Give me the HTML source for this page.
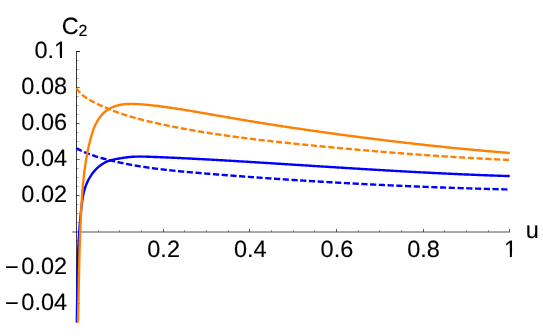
<!DOCTYPE html>
<html><head><meta charset="utf-8"><title>C2 plot</title>
<style>
html,body{margin:0;padding:0;background:#fff;}
body{width:543px;height:336px;overflow:hidden;}
svg{display:block;will-change:transform;}
text{font-family:"Liberation Sans",sans-serif;font-size:23.5px;fill:#000;stroke:#000;stroke-width:0.12px;text-rendering:geometricPrecision;}
</style></head><body>
<svg width="543" height="336" viewBox="0 0 543 336">
<defs><clipPath id="cy1"><path clip-rule="evenodd" d="M0,0H543V336H0Z M54.82,55.59H59.94V59.25H54.82Z M62.02,55.59H66.95V59.25H62.02Z"/></clipPath><clipPath id="cx1"><path clip-rule="evenodd" d="M0,0H543V336H0Z M504.71,253.84H509.82V257.50H504.71Z M511.90,253.84H516.84V257.50H511.90Z"/></clipPath></defs>
<rect width="543" height="336" fill="#fff"/>
<g stroke="#000" stroke-width="0.68" fill="none">
<line x1="72.1" y1="232" x2="510" y2="232"/>
<line x1="98.50" y1="232" x2="98.50" y2="229.90" stroke-width="0.36"/><line x1="119.50" y1="232" x2="119.50" y2="229.90" stroke-width="0.36"/><line x1="141.50" y1="232" x2="141.50" y2="229.90" stroke-width="0.36"/><line x1="163.50" y1="232" x2="163.50" y2="228.80" stroke-width="0.62"/><line x1="184.50" y1="232" x2="184.50" y2="229.90" stroke-width="0.36"/><line x1="206.50" y1="232" x2="206.50" y2="229.90" stroke-width="0.36"/><line x1="228.50" y1="232" x2="228.50" y2="229.90" stroke-width="0.36"/><line x1="249.50" y1="232" x2="249.50" y2="228.80" stroke-width="0.62"/><line x1="271.50" y1="232" x2="271.50" y2="229.90" stroke-width="0.36"/><line x1="293.50" y1="232" x2="293.50" y2="229.90" stroke-width="0.36"/><line x1="314.50" y1="232" x2="314.50" y2="229.90" stroke-width="0.36"/><line x1="336.50" y1="232" x2="336.50" y2="228.80" stroke-width="0.62"/><line x1="358.50" y1="232" x2="358.50" y2="229.90" stroke-width="0.36"/><line x1="379.50" y1="232" x2="379.50" y2="229.90" stroke-width="0.36"/><line x1="401.50" y1="232" x2="401.50" y2="229.90" stroke-width="0.36"/><line x1="423.50" y1="232" x2="423.50" y2="228.80" stroke-width="0.62"/><line x1="444.50" y1="232" x2="444.50" y2="229.90" stroke-width="0.36"/><line x1="466.50" y1="232" x2="466.50" y2="229.90" stroke-width="0.36"/><line x1="488.50" y1="232" x2="488.50" y2="229.90" stroke-width="0.36"/><line x1="509.50" y1="232" x2="509.50" y2="228.80" stroke-width="0.62"/>
</g>
<g stroke="#000" stroke-width="0.76" fill="none">
<line x1="76.5" y1="51.1" x2="76.5" y2="322.5"/>
<line x1="76.5" y1="321.50" x2="78.60" y2="321.50" stroke-width="0.36"/><line x1="76.5" y1="312.50" x2="78.60" y2="312.50" stroke-width="0.36"/><line x1="76.5" y1="303.50" x2="79.70" y2="303.50" stroke-width="0.62"/><line x1="76.5" y1="294.50" x2="78.60" y2="294.50" stroke-width="0.36"/><line x1="76.5" y1="285.50" x2="78.60" y2="285.50" stroke-width="0.36"/><line x1="76.5" y1="276.50" x2="78.60" y2="276.50" stroke-width="0.36"/><line x1="76.5" y1="267.50" x2="79.70" y2="267.50" stroke-width="0.62"/><line x1="76.5" y1="258.50" x2="78.60" y2="258.50" stroke-width="0.36"/><line x1="76.5" y1="249.50" x2="78.60" y2="249.50" stroke-width="0.36"/><line x1="76.5" y1="240.50" x2="78.60" y2="240.50" stroke-width="0.36"/><line x1="76.5" y1="222.50" x2="78.60" y2="222.50" stroke-width="0.36"/><line x1="76.5" y1="213.50" x2="78.60" y2="213.50" stroke-width="0.36"/><line x1="76.5" y1="204.50" x2="78.60" y2="204.50" stroke-width="0.36"/><line x1="76.5" y1="195.50" x2="79.70" y2="195.50" stroke-width="0.62"/><line x1="76.5" y1="186.50" x2="78.60" y2="186.50" stroke-width="0.36"/><line x1="76.5" y1="177.50" x2="78.60" y2="177.50" stroke-width="0.36"/><line x1="76.5" y1="168.50" x2="78.60" y2="168.50" stroke-width="0.36"/><line x1="76.5" y1="159.50" x2="79.70" y2="159.50" stroke-width="0.62"/><line x1="76.5" y1="150.50" x2="78.60" y2="150.50" stroke-width="0.36"/><line x1="76.5" y1="141.50" x2="78.60" y2="141.50" stroke-width="0.36"/><line x1="76.5" y1="132.50" x2="78.60" y2="132.50" stroke-width="0.36"/><line x1="76.5" y1="123.50" x2="79.70" y2="123.50" stroke-width="0.62"/><line x1="76.5" y1="114.50" x2="78.60" y2="114.50" stroke-width="0.36"/><line x1="76.5" y1="105.50" x2="78.60" y2="105.50" stroke-width="0.36"/><line x1="76.5" y1="96.50" x2="78.60" y2="96.50" stroke-width="0.36"/><line x1="76.5" y1="87.50" x2="79.70" y2="87.50" stroke-width="0.62"/><line x1="76.5" y1="78.50" x2="78.60" y2="78.50" stroke-width="0.36"/><line x1="76.5" y1="69.50" x2="78.60" y2="69.50" stroke-width="0.36"/><line x1="76.5" y1="60.50" x2="78.60" y2="60.50" stroke-width="0.36"/><line x1="76.5" y1="51.50" x2="79.70" y2="51.50" stroke-width="0.62"/>
<line x1="76.5" y1="51.5" x2="80.0" y2="51.5"/>
</g>
<g fill="none" stroke-width="2.4" stroke-linejoin="round">
<path d="M76.80,322.49 L76.83,321.35 L76.85,320.20 L76.87,319.05 L76.90,317.90 L76.92,316.75 L76.94,315.60 L76.96,314.45 L76.98,313.30 L76.99,312.15 L77.01,311.00 L77.03,309.85 L77.05,308.70 L77.06,307.55 L77.08,306.40 L77.09,305.25 L77.11,304.10 L77.13,302.95 L77.14,301.80 L77.16,300.65 L77.17,299.50 L77.18,298.34 L77.20,297.19 L77.21,296.04 L77.23,294.89 L77.24,293.74 L77.26,292.59 L77.27,291.44 L77.29,290.29 L77.30,289.14 L77.32,287.98 L77.33,286.83 L77.35,285.68 L77.37,284.53 L77.38,283.38 L77.40,282.23 L77.42,281.08 L77.44,279.93 L77.46,278.77 L77.48,277.62 L77.50,276.47 L77.52,275.32 L77.54,274.17 L77.56,273.02 L77.59,271.87 L77.61,270.72 L77.64,269.56 L77.66,268.41 L77.69,267.26 L77.72,266.11 L77.75,264.96 L77.78,263.81 L77.81,262.66 L77.84,261.51 L77.88,260.36 L77.91,259.21 L77.95,258.06 L77.99,256.91 L78.02,255.76 L78.07,254.61 L78.11,253.46 L78.15,252.31 L78.20,251.16 L78.24,250.01 L78.29,248.86 L78.34,247.71 L78.39,246.56 L78.45,245.41 L78.50,244.26 L78.56,243.11 L78.62,241.97 L78.68,240.82 L78.75,239.67 L78.81,238.52 L78.88,237.37 L78.95,236.23 L79.02,235.08 L79.09,233.93 L79.17,232.78 L79.25,231.64 L79.33,230.49 L79.41,229.34 L79.49,228.20 L79.58,227.05 L79.67,225.90 L79.76,224.76 L79.85,223.61 L79.95,222.47 L80.05,221.32 L80.15,220.18 L80.25,219.03 L80.36,217.88 L80.46,216.74 L80.57,215.59 L80.69,214.45 L80.80,213.31 L80.92,212.16 L81.04,211.02 L81.16,209.87 L81.28,208.73 L81.41,207.58 L81.54,206.44 L81.67,205.30 L81.81,204.15 L81.95,203.01 L82.10,201.87 L82.26,200.73 L82.42,199.59 L82.60,198.45 L82.79,197.32 L82.99,196.19 L83.21,195.06 L83.44,193.93 L83.70,192.81 L83.97,191.69 L84.26,190.58 L84.57,189.47 L84.91,188.37 L85.27,187.27 L85.65,186.17 L86.06,185.09 L86.50,184.01 L86.95,182.94 L87.43,181.88 L87.94,180.83 L88.46,179.80 L89.02,178.78 L89.59,177.77 L90.19,176.78 L90.81,175.80 L91.45,174.84 L92.11,173.90 L92.80,172.98 L93.51,172.08 L94.25,171.20 L95.00,170.34 L95.78,169.51 L96.58,168.70 L97.40,167.91 L98.24,167.16 L99.10,166.42 L99.99,165.72 L100.89,165.05 L101.82,164.40 L102.77,163.79 L103.74,163.21 L104.73,162.66 L105.74,162.15 L106.77,161.67 L107.82,161.23 L108.89,160.83 L109.98,160.46 L111.09,160.14 L112.22,159.84 L113.36,159.58 L114.51,159.34 L115.67,159.12 L116.83,158.92 L118.00,158.72 L119.16,158.54 L120.32,158.35 L121.48,158.17 L122.63,157.98 L123.77,157.80 L124.92,157.63 L126.06,157.46 L127.20,157.31 L128.34,157.17 L129.48,157.05 L130.62,156.94 L131.76,156.85 L132.90,156.77 L134.05,156.71 L135.19,156.66 L136.34,156.62 L137.48,156.60 L138.63,156.58 L139.77,156.57 L140.92,156.58 L142.07,156.59 L143.22,156.61 L144.36,156.63 L145.51,156.66 L146.66,156.69 L147.81,156.73 L148.96,156.77 L150.11,156.81 L151.26,156.85 L152.41,156.90 L153.56,156.94 L154.71,156.99 L155.85,157.03 L157.00,157.07 L158.15,157.12 L159.30,157.17 L160.45,157.21 L161.60,157.26 L162.75,157.31 L163.90,157.35 L165.05,157.40 L166.20,157.45 L167.35,157.50 L168.50,157.55 L169.64,157.60 L170.79,157.65 L171.94,157.70 L173.09,157.75 L174.24,157.81 L175.39,157.86 L176.54,157.91 L177.69,157.96 L178.84,158.02 L179.99,158.07 L181.14,158.13 L182.28,158.18 L183.43,158.24 L184.58,158.29 L185.73,158.35 L186.88,158.40 L188.03,158.46 L189.18,158.52 L190.33,158.57 L191.48,158.63 L192.63,158.69 L193.78,158.75 L194.92,158.81 L196.07,158.87 L197.22,158.93 L198.37,158.99 L199.52,159.05 L200.67,159.11 L201.82,159.17 L202.97,159.23 L204.12,159.29 L205.27,159.35 L206.42,159.41 L207.56,159.48 L208.71,159.54 L209.86,159.60 L211.01,159.66 L212.16,159.73 L213.31,159.79 L214.46,159.86 L215.61,159.92 L216.76,159.98 L217.91,160.05 L219.05,160.11 L220.20,160.18 L221.35,160.25 L222.50,160.31 L223.65,160.38 L224.80,160.44 L225.95,160.51 L227.10,160.58 L228.25,160.64 L229.39,160.71 L230.54,160.78 L231.69,160.85 L232.84,160.91 L233.99,160.98 L235.14,161.05 L236.29,161.12 L237.44,161.19 L238.59,161.26 L239.73,161.33 L240.88,161.40 L242.03,161.46 L243.18,161.53 L244.33,161.60 L245.48,161.67 L246.63,161.74 L247.78,161.81 L248.93,161.88 L250.07,161.95 L251.22,162.02 L252.37,162.10 L253.52,162.17 L254.67,162.24 L255.82,162.31 L256.97,162.38 L258.12,162.45 L259.26,162.52 L260.41,162.59 L261.56,162.67 L262.71,162.74 L263.86,162.81 L265.01,162.88 L266.16,162.95 L267.31,163.02 L268.45,163.10 L269.60,163.17 L270.75,163.24 L271.90,163.31 L273.05,163.39 L274.20,163.46 L275.35,163.53 L276.50,163.60 L277.64,163.68 L278.79,163.75 L279.94,163.82 L281.09,163.89 L282.24,163.97 L283.39,164.04 L284.54,164.11 L285.68,164.18 L286.83,164.26 L287.98,164.33 L289.13,164.40 L290.28,164.48 L291.43,164.55 L292.58,164.62 L293.72,164.69 L294.87,164.77 L296.02,164.84 L297.17,164.91 L298.32,164.99 L299.47,165.06 L300.62,165.13 L301.76,165.20 L302.91,165.28 L304.06,165.35 L305.21,165.42 L306.36,165.50 L307.51,165.57 L308.66,165.64 L309.80,165.71 L310.95,165.79 L312.10,165.86 L313.25,165.93 L314.40,166.01 L315.55,166.08 L316.69,166.15 L317.84,166.22 L318.99,166.30 L320.14,166.37 L321.29,166.44 L322.44,166.51 L323.59,166.59 L324.73,166.66 L325.88,166.73 L327.03,166.80 L328.18,166.88 L329.33,166.95 L330.48,167.02 L331.63,167.09 L332.77,167.16 L333.92,167.24 L335.07,167.31 L336.22,167.38 L337.37,167.45 L338.52,167.52 L339.66,167.59 L340.81,167.67 L341.96,167.74 L343.11,167.81 L344.26,167.88 L345.41,167.95 L346.56,168.02 L347.70,168.09 L348.85,168.16 L350.00,168.24 L351.15,168.31 L352.30,168.38 L353.45,168.45 L354.60,168.52 L355.74,168.59 L356.89,168.66 L358.04,168.73 L359.19,168.80 L360.34,168.87 L361.49,168.94 L362.63,169.01 L363.78,169.08 L364.93,169.14 L366.08,169.21 L367.23,169.28 L368.38,169.35 L369.53,169.42 L370.68,169.49 L371.82,169.56 L372.97,169.63 L374.12,169.69 L375.27,169.76 L376.42,169.83 L377.57,169.90 L378.72,169.97 L379.86,170.03 L381.01,170.10 L382.16,170.17 L383.31,170.23 L384.46,170.30 L385.61,170.37 L386.76,170.43 L387.90,170.50 L389.05,170.57 L390.20,170.63 L391.35,170.70 L392.50,170.76 L393.65,170.83 L394.80,170.89 L395.95,170.96 L397.09,171.02 L398.24,171.09 L399.39,171.15 L400.54,171.22 L401.69,171.28 L402.84,171.34 L403.99,171.41 L405.14,171.47 L406.29,171.54 L407.43,171.60 L408.58,171.66 L409.73,171.72 L410.88,171.79 L412.03,171.85 L413.18,171.91 L414.33,171.97 L415.48,172.03 L416.63,172.09 L417.77,172.15 L418.92,172.22 L420.07,172.28 L421.22,172.34 L422.37,172.40 L423.52,172.46 L424.67,172.52 L425.82,172.57 L426.97,172.63 L428.12,172.69 L429.27,172.75 L430.41,172.81 L431.56,172.87 L432.71,172.93 L433.86,172.98 L435.01,173.04 L436.16,173.10 L437.31,173.15 L438.46,173.21 L439.61,173.27 L440.76,173.32 L441.91,173.38 L443.06,173.43 L444.21,173.49 L445.35,173.54 L446.50,173.60 L447.65,173.65 L448.80,173.71 L449.95,173.76 L451.10,173.81 L452.25,173.86 L453.40,173.92 L454.55,173.97 L455.70,174.02 L456.85,174.07 L458.00,174.13 L459.15,174.18 L460.30,174.23 L461.45,174.28 L462.60,174.33 L463.75,174.38 L464.90,174.43 L466.05,174.48 L467.20,174.53 L468.35,174.57 L469.50,174.62 L470.64,174.67 L471.79,174.72 L472.94,174.76 L474.09,174.81 L475.24,174.86 L476.39,174.90 L477.54,174.95 L478.69,175.00 L479.84,175.04 L480.99,175.08 L482.14,175.13 L483.29,175.17 L484.44,175.22 L485.59,175.26 L486.74,175.30 L487.89,175.35 L489.04,175.39 L490.19,175.43 L491.34,175.47 L492.49,175.51 L493.64,175.55 L494.79,175.59 L495.94,175.63 L497.10,175.67 L498.25,175.71 L499.40,175.75 L500.55,175.79 L501.70,175.83 L502.85,175.86 L504.00,175.90 L505.15,175.94 L506.30,175.97 L507.45,176.01 L508.60,176.05 L509.75,176.08" stroke="#0000ff"/>
<path d="M76.24,148.03 L77.00,148.47 L77.77,148.89 L78.53,149.31 L79.31,149.72 L80.08,150.12 L80.86,150.51 L81.65,150.89 L82.44,151.27 L83.23,151.63 L84.03,151.99 L84.83,152.34 L85.63,152.68 L86.44,153.02 L87.25,153.34 L88.06,153.66 L88.88,153.98 L89.69,154.29 L90.52,154.59 L91.34,154.88 L92.17,155.17 L92.99,155.45 L93.82,155.73 L94.66,156.00 L95.49,156.27 L96.33,156.53 L97.17,156.79 L98.00,157.05 L98.85,157.30 L99.69,157.54 L100.53,157.79 L101.37,158.02 L102.22,158.26 L103.07,158.49 L103.91,158.72 L104.76,158.95 L105.61,159.17 L106.46,159.40 L107.30,159.62 L108.15,159.83 L109.00,160.05 L109.85,160.26 L110.70,160.47 L111.55,160.68 L112.41,160.88 L113.26,161.08 L114.11,161.28 L114.96,161.48 L115.82,161.68 L116.67,161.87 L117.52,162.06 L118.38,162.25 L119.23,162.44 L120.09,162.62 L120.94,162.81 L121.80,162.99 L122.66,163.16 L123.51,163.34 L124.37,163.51 L125.23,163.69 L126.09,163.86 L126.94,164.02 L127.80,164.19 L128.66,164.35 L129.52,164.52 L130.38,164.68 L131.24,164.83 L132.10,164.99 L132.96,165.15 L133.82,165.30 L134.69,165.45 L135.55,165.60 L136.41,165.74 L137.27,165.89 L138.14,166.03 L139.00,166.18 L139.86,166.32 L140.73,166.45 L141.59,166.59 L142.45,166.73 L143.32,166.86 L144.18,166.99 L145.05,167.12 L145.92,167.25 L146.78,167.38 L147.65,167.50 L148.51,167.63 L149.38,167.75 L150.25,167.87 L151.11,167.99 L151.98,168.11 L152.85,168.23 L153.72,168.35 L154.59,168.46 L155.45,168.57 L156.32,168.68 L157.19,168.80 L158.06,168.90 L158.93,169.01 L159.80,169.12 L160.67,169.23 L161.54,169.33 L162.41,169.43 L163.28,169.53 L164.15,169.64 L165.02,169.74 L165.89,169.83 L166.76,169.93 L167.64,170.03 L168.51,170.13 L169.38,170.22 L170.25,170.31 L171.12,170.41 L171.99,170.50 L172.87,170.59 L173.74,170.68 L174.61,170.77 L175.48,170.86 L176.36,170.94 L177.23,171.03 L178.10,171.12 L178.98,171.20 L179.85,171.29 L180.72,171.37 L181.60,171.45 L182.47,171.54 L183.34,171.62 L184.22,171.70 L185.09,171.78 L185.97,171.86 L186.84,171.94 L187.71,172.02 L188.59,172.09 L189.46,172.17 L190.34,172.25 L191.21,172.33 L192.09,172.40 L192.96,172.48 L193.84,172.55 L194.71,172.63 L195.58,172.70 L196.46,172.78 L197.33,172.85 L198.21,172.92 L199.08,173.00 L199.96,173.07 L200.83,173.14 L201.71,173.22 L202.58,173.29 L203.46,173.36 L204.33,173.43 L205.21,173.51 L206.08,173.58 L206.96,173.65 L207.83,173.72 L208.71,173.79 L209.58,173.86 L210.46,173.93 L211.33,174.00 L212.20,174.07 L213.08,174.15 L213.95,174.22 L214.83,174.29 L215.70,174.36 L216.58,174.43 L217.45,174.50 L218.33,174.57 L219.20,174.63 L220.08,174.70 L220.95,174.77 L221.83,174.84 L222.70,174.91 L223.58,174.98 L224.45,175.05 L225.32,175.12 L226.20,175.19 L227.07,175.25 L227.95,175.32 L228.82,175.39 L229.70,175.46 L230.57,175.52 L231.45,175.59 L232.32,175.66 L233.20,175.73 L234.07,175.79 L234.95,175.86 L235.82,175.93 L236.69,175.99 L237.57,176.06 L238.44,176.12 L239.32,176.19 L240.19,176.26 L241.07,176.32 L241.94,176.39 L242.82,176.45 L243.69,176.52 L244.56,176.58 L245.44,176.65 L246.31,176.71 L247.19,176.78 L248.06,176.84 L248.94,176.91 L249.81,176.97 L250.69,177.04 L251.56,177.10 L252.44,177.16 L253.31,177.23 L254.18,177.29 L255.06,177.35 L255.93,177.42 L256.81,177.48 L257.68,177.54 L258.56,177.61 L259.43,177.67 L260.31,177.73 L261.18,177.79 L262.05,177.85 L262.93,177.92 L263.80,177.98 L264.68,178.04 L265.55,178.10 L266.43,178.16 L267.30,178.22 L268.18,178.29 L269.05,178.35 L269.92,178.41 L270.80,178.47 L271.67,178.53 L272.55,178.59 L273.42,178.65 L274.30,178.71 L275.17,178.77 L276.05,178.83 L276.92,178.89 L277.79,178.95 L278.67,179.01 L279.54,179.07 L280.42,179.13 L281.29,179.18 L282.17,179.24 L283.04,179.30 L283.92,179.36 L284.79,179.42 L285.66,179.48 L286.54,179.53 L287.41,179.59 L288.29,179.65 L289.16,179.71 L290.04,179.76 L290.91,179.82 L291.78,179.88 L292.66,179.94 L293.53,179.99 L294.41,180.05 L295.28,180.11 L296.16,180.16 L297.03,180.22 L297.91,180.27 L298.78,180.33 L299.65,180.39 L300.53,180.44 L301.40,180.50 L302.28,180.55 L303.15,180.61 L304.03,180.66 L304.90,180.72 L305.78,180.77 L306.65,180.83 L307.52,180.88 L308.40,180.93 L309.27,180.99 L310.15,181.04 L311.02,181.10 L311.90,181.15 L312.77,181.20 L313.65,181.26 L314.52,181.31 L315.39,181.36 L316.27,181.42 L317.14,181.47 L318.02,181.52 L318.89,181.57 L319.77,181.63 L320.64,181.68 L321.52,181.73 L322.39,181.78 L323.27,181.83 L324.14,181.89 L325.01,181.94 L325.89,181.99 L326.76,182.04 L327.64,182.09 L328.51,182.14 L329.39,182.19 L330.26,182.24 L331.14,182.29 L332.01,182.34 L332.89,182.39 L333.76,182.44 L334.63,182.49 L335.51,182.54 L336.38,182.59 L337.26,182.64 L338.13,182.69 L339.01,182.74 L339.88,182.79 L340.76,182.84 L341.63,182.89 L342.51,182.93 L343.38,182.98 L344.26,183.03 L345.13,183.08 L346.00,183.13 L346.88,183.17 L347.75,183.22 L348.63,183.27 L349.50,183.32 L350.38,183.36 L351.25,183.41 L352.13,183.46 L353.00,183.50 L353.88,183.55 L354.75,183.60 L355.63,183.64 L356.50,183.69 L357.38,183.73 L358.25,183.78 L359.13,183.83 L360.00,183.87 L360.87,183.92 L361.75,183.96 L362.62,184.01 L363.50,184.05 L364.37,184.10 L365.25,184.14 L366.12,184.19 L367.00,184.23 L367.87,184.27 L368.75,184.32 L369.62,184.36 L370.50,184.41 L371.37,184.45 L372.25,184.49 L373.12,184.54 L374.00,184.58 L374.87,184.62 L375.75,184.66 L376.62,184.71 L377.50,184.75 L378.37,184.79 L379.25,184.83 L380.12,184.88 L381.00,184.92 L381.87,184.96 L382.75,185.00 L383.62,185.04 L384.50,185.08 L385.37,185.13 L386.25,185.17 L387.12,185.21 L388.00,185.25 L388.87,185.29 L389.75,185.33 L390.62,185.37 L391.50,185.41 L392.37,185.45 L393.25,185.49 L394.12,185.53 L395.00,185.57 L395.87,185.61 L396.75,185.65 L397.62,185.69 L398.50,185.73 L399.37,185.77 L400.25,185.80 L401.12,185.84 L402.00,185.88 L402.87,185.92 L403.75,185.96 L404.63,186.00 L405.50,186.03 L406.38,186.07 L407.25,186.11 L408.13,186.15 L409.00,186.18 L409.88,186.22 L410.75,186.26 L411.63,186.29 L412.50,186.33 L413.38,186.37 L414.25,186.40 L415.13,186.44 L416.01,186.48 L416.88,186.51 L417.76,186.55 L418.63,186.58 L419.51,186.62 L420.38,186.65 L421.26,186.69 L422.13,186.72 L423.01,186.76 L423.88,186.79 L424.76,186.83 L425.64,186.86 L426.51,186.90 L427.39,186.93 L428.26,186.96 L429.14,187.00 L430.01,187.03 L430.89,187.07 L431.77,187.10 L432.64,187.13 L433.52,187.17 L434.39,187.20 L435.27,187.23 L436.14,187.26 L437.02,187.30 L437.90,187.33 L438.77,187.36 L439.65,187.39 L440.52,187.43 L441.40,187.46 L442.28,187.49 L443.15,187.52 L444.03,187.55 L444.90,187.58 L445.78,187.61 L446.66,187.64 L447.53,187.68 L448.41,187.71 L449.28,187.74 L450.16,187.77 L451.04,187.80 L451.91,187.83 L452.79,187.86 L453.66,187.89 L454.54,187.92 L455.42,187.95 L456.29,187.98 L457.17,188.00 L458.04,188.03 L458.92,188.06 L459.80,188.09 L460.67,188.12 L461.55,188.15 L462.43,188.18 L463.30,188.20 L464.18,188.23 L465.05,188.26 L465.93,188.29 L466.81,188.32 L467.68,188.34 L468.56,188.37 L469.44,188.40 L470.31,188.42 L471.19,188.45 L472.07,188.48 L472.94,188.50 L473.82,188.53 L474.70,188.56 L475.57,188.58 L476.45,188.61 L477.33,188.63 L478.20,188.66 L479.08,188.69 L479.96,188.71 L480.83,188.74 L481.71,188.76 L482.59,188.79 L483.46,188.81 L484.34,188.84 L485.22,188.86 L486.09,188.88 L486.97,188.91 L487.85,188.93 L488.72,188.96 L489.60,188.98 L490.48,189.00 L491.35,189.03 L492.23,189.05 L493.11,189.07 L493.99,189.10 L494.86,189.12 L495.74,189.14 L496.62,189.17 L497.49,189.19 L498.37,189.21 L499.25,189.23 L500.13,189.25 L501.00,189.28 L501.88,189.30 L502.76,189.32 L503.63,189.34 L504.51,189.36 L505.39,189.38 L506.27,189.40 L507.14,189.43 L508.02,189.45 L508.90,189.47 L509.78,189.49" stroke="#0000ff" stroke-dasharray="6.2 2.55"/>
<path d="M77.96,322.50 L77.99,321.25 L78.02,319.99 L78.05,318.74 L78.08,317.49 L78.11,316.23 L78.14,314.98 L78.17,313.73 L78.20,312.47 L78.23,311.22 L78.25,309.97 L78.28,308.71 L78.31,307.46 L78.33,306.21 L78.36,304.95 L78.39,303.70 L78.41,302.45 L78.44,301.19 L78.46,299.94 L78.49,298.68 L78.51,297.43 L78.54,296.18 L78.56,294.92 L78.59,293.67 L78.61,292.42 L78.64,291.16 L78.66,289.91 L78.69,288.66 L78.71,287.40 L78.74,286.15 L78.76,284.90 L78.79,283.64 L78.81,282.39 L78.84,281.14 L78.86,279.88 L78.89,278.63 L78.91,277.38 L78.94,276.12 L78.97,274.87 L78.99,273.62 L79.02,272.37 L79.05,271.11 L79.07,269.86 L79.10,268.61 L79.13,267.35 L79.16,266.10 L79.19,264.85 L79.22,263.59 L79.25,262.34 L79.28,261.09 L79.31,259.83 L79.34,258.58 L79.37,257.33 L79.41,256.07 L79.44,254.82 L79.47,253.57 L79.51,252.32 L79.54,251.06 L79.58,249.81 L79.61,248.56 L79.65,247.30 L79.69,246.05 L79.73,244.80 L79.77,243.55 L79.81,242.29 L79.85,241.04 L79.89,239.79 L79.93,238.54 L79.98,237.28 L80.02,236.03 L80.07,234.78 L80.11,233.52 L80.16,232.27 L80.21,231.02 L80.26,229.77 L80.31,228.52 L80.36,227.26 L80.42,226.01 L80.47,224.76 L80.52,223.51 L80.58,222.25 L80.64,221.00 L80.70,219.75 L80.76,218.50 L80.82,217.24 L80.88,215.99 L80.94,214.74 L81.01,213.49 L81.07,212.24 L81.14,210.98 L81.21,209.73 L81.28,208.48 L81.35,207.23 L81.42,205.98 L81.50,204.73 L81.57,203.47 L81.65,202.22 L81.73,200.97 L81.81,199.72 L81.90,198.47 L81.98,197.22 L82.07,195.97 L82.16,194.71 L82.25,193.46 L82.35,192.21 L82.45,190.96 L82.55,189.71 L82.65,188.47 L82.76,187.22 L82.87,185.97 L82.98,184.72 L83.10,183.47 L83.22,182.22 L83.34,180.98 L83.47,179.73 L83.60,178.49 L83.74,177.24 L83.88,175.99 L84.02,174.75 L84.17,173.51 L84.32,172.26 L84.48,171.02 L84.64,169.78 L84.81,168.54 L84.98,167.30 L85.16,166.06 L85.34,164.82 L85.53,163.58 L85.72,162.34 L85.91,161.10 L86.12,159.87 L86.33,158.63 L86.54,157.40 L86.76,156.16 L86.99,154.93 L87.22,153.70 L87.46,152.47 L87.70,151.24 L87.96,150.01 L88.21,148.79 L88.48,147.56 L88.75,146.34 L89.03,145.12 L89.31,143.89 L89.60,142.68 L89.90,141.46 L90.20,140.24 L90.52,139.03 L90.84,137.82 L91.17,136.61 L91.52,135.40 L91.87,134.20 L92.25,133.01 L92.64,131.82 L93.04,130.63 L93.47,129.46 L93.92,128.28 L94.39,127.12 L94.89,125.97 L95.41,124.82 L95.96,123.69 L96.54,122.56 L97.14,121.46 L97.78,120.37 L98.45,119.29 L99.15,118.24 L99.88,117.22 L100.65,116.22 L101.45,115.25 L102.29,114.31 L103.16,113.41 L104.06,112.55 L104.99,111.73 L105.96,110.96 L106.96,110.23 L107.99,109.55 L109.04,108.92 L110.13,108.32 L111.23,107.77 L112.36,107.26 L113.51,106.79 L114.68,106.36 L115.87,105.97 L117.07,105.62 L118.28,105.30 L119.50,105.02 L120.73,104.78 L121.97,104.56 L123.22,104.38 L124.47,104.24 L125.72,104.12 L126.97,104.03 L128.23,103.97 L129.48,103.93 L130.74,103.92 L132.00,103.92 L133.26,103.95 L134.51,103.98 L135.77,104.03 L137.03,104.10 L138.29,104.17 L139.54,104.25 L140.80,104.33 L142.05,104.42 L143.30,104.52 L144.56,104.62 L145.81,104.73 L147.06,104.84 L148.31,104.96 L149.55,105.08 L150.80,105.21 L152.05,105.34 L153.29,105.48 L154.54,105.62 L155.78,105.76 L157.03,105.91 L158.27,106.06 L159.51,106.22 L160.75,106.38 L161.99,106.54 L163.23,106.71 L164.47,106.88 L165.71,107.05 L166.95,107.22 L168.19,107.40 L169.43,107.58 L170.67,107.77 L171.91,107.95 L173.15,108.14 L174.38,108.32 L175.62,108.51 L176.86,108.71 L178.10,108.90 L179.33,109.09 L180.57,109.29 L181.81,109.49 L183.04,109.68 L184.28,109.88 L185.52,110.08 L186.75,110.29 L187.99,110.49 L189.23,110.69 L190.46,110.90 L191.70,111.10 L192.93,111.31 L194.17,111.52 L195.40,111.72 L196.64,111.93 L197.88,112.14 L199.11,112.35 L200.35,112.56 L201.58,112.78 L202.82,112.99 L204.05,113.20 L205.29,113.41 L206.52,113.63 L207.76,113.84 L209.00,114.06 L210.23,114.27 L211.47,114.49 L212.70,114.70 L213.94,114.92 L215.17,115.13 L216.41,115.35 L217.64,115.57 L218.88,115.78 L220.11,116.00 L221.35,116.21 L222.58,116.43 L223.82,116.64 L225.06,116.86 L226.29,117.08 L227.53,117.29 L228.76,117.51 L230.00,117.72 L231.23,117.93 L232.47,118.15 L233.71,118.36 L234.94,118.57 L236.18,118.79 L237.41,119.00 L238.65,119.21 L239.89,119.42 L241.12,119.63 L242.36,119.84 L243.60,120.04 L244.83,120.25 L246.07,120.46 L247.31,120.67 L248.54,120.87 L249.78,121.08 L251.02,121.28 L252.25,121.49 L253.49,121.69 L254.73,121.89 L255.96,122.09 L257.20,122.29 L258.44,122.50 L259.68,122.70 L260.92,122.90 L262.15,123.09 L263.39,123.29 L264.63,123.49 L265.87,123.69 L267.10,123.89 L268.34,124.08 L269.58,124.28 L270.82,124.47 L272.06,124.67 L273.30,124.86 L274.53,125.05 L275.77,125.25 L277.01,125.44 L278.25,125.63 L279.49,125.82 L280.73,126.01 L281.97,126.20 L283.21,126.39 L284.45,126.58 L285.68,126.77 L286.92,126.96 L288.16,127.14 L289.40,127.33 L290.64,127.52 L291.88,127.70 L293.12,127.89 L294.36,128.07 L295.60,128.26 L296.84,128.44 L298.08,128.62 L299.32,128.81 L300.56,128.99 L301.80,129.17 L303.04,129.35 L304.28,129.53 L305.52,129.71 L306.76,129.89 L308.00,130.07 L309.24,130.25 L310.48,130.43 L311.73,130.60 L312.97,130.78 L314.21,130.96 L315.45,131.14 L316.69,131.31 L317.93,131.49 L319.17,131.66 L320.41,131.84 L321.65,132.01 L322.89,132.18 L324.14,132.36 L325.38,132.53 L326.62,132.70 L327.86,132.87 L329.10,133.05 L330.34,133.22 L331.59,133.39 L332.83,133.56 L334.07,133.73 L335.31,133.90 L336.55,134.06 L337.80,134.23 L339.04,134.40 L340.28,134.57 L341.52,134.74 L342.76,134.90 L344.01,135.07 L345.25,135.24 L346.49,135.40 L347.73,135.57 L348.98,135.73 L350.22,135.90 L351.46,136.06 L352.71,136.22 L353.95,136.39 L355.19,136.55 L356.43,136.71 L357.68,136.87 L358.92,137.04 L360.16,137.20 L361.41,137.36 L362.65,137.52 L363.89,137.68 L365.14,137.84 L366.38,138.00 L367.62,138.15 L368.87,138.31 L370.11,138.47 L371.36,138.63 L372.60,138.78 L373.84,138.94 L375.09,139.10 L376.33,139.25 L377.57,139.41 L378.82,139.56 L380.06,139.71 L381.31,139.87 L382.55,140.02 L383.80,140.17 L385.04,140.33 L386.28,140.48 L387.53,140.63 L388.77,140.78 L390.02,140.93 L391.26,141.08 L392.51,141.23 L393.75,141.38 L395.00,141.53 L396.24,141.67 L397.49,141.82 L398.73,141.97 L399.98,142.12 L401.22,142.26 L402.47,142.41 L403.71,142.55 L404.96,142.70 L406.20,142.84 L407.45,142.98 L408.69,143.13 L409.94,143.27 L411.19,143.41 L412.43,143.55 L413.68,143.70 L414.92,143.84 L416.17,143.98 L417.41,144.12 L418.66,144.26 L419.91,144.39 L421.15,144.53 L422.40,144.67 L423.64,144.81 L424.89,144.94 L426.14,145.08 L427.38,145.22 L428.63,145.35 L429.88,145.49 L431.12,145.62 L432.37,145.75 L433.61,145.89 L434.86,146.02 L436.11,146.15 L437.35,146.28 L438.60,146.41 L439.85,146.54 L441.10,146.67 L442.34,146.80 L443.59,146.93 L444.84,147.06 L446.08,147.19 L447.33,147.32 L448.58,147.44 L449.82,147.57 L451.07,147.70 L452.32,147.82 L453.57,147.94 L454.81,148.07 L456.06,148.19 L457.31,148.32 L458.56,148.44 L459.80,148.56 L461.05,148.68 L462.30,148.80 L463.55,148.92 L464.80,149.04 L466.04,149.16 L467.29,149.28 L468.54,149.40 L469.79,149.51 L471.04,149.63 L472.28,149.75 L473.53,149.86 L474.78,149.98 L476.03,150.09 L477.28,150.21 L478.53,150.32 L479.77,150.43 L481.02,150.55 L482.27,150.66 L483.52,150.77 L484.77,150.88 L486.02,150.99 L487.27,151.10 L488.51,151.21 L489.76,151.31 L491.01,151.42 L492.26,151.53 L493.51,151.64 L494.76,151.74 L496.01,151.85 L497.26,151.95 L498.51,152.06 L499.76,152.16 L501.01,152.26 L502.26,152.36 L503.50,152.47 L504.75,152.57 L506.00,152.67 L507.25,152.77 L508.50,152.87 L509.75,152.96" stroke="#ff8000"/>
<path d="M76.43,88.08 L76.93,88.85 L77.45,89.60 L78.00,90.33 L78.56,91.03 L79.14,91.71 L79.73,92.37 L80.34,93.01 L80.97,93.63 L81.61,94.23 L82.27,94.81 L82.94,95.37 L83.63,95.92 L84.33,96.45 L85.03,96.97 L85.75,97.48 L86.48,97.97 L87.22,98.45 L87.97,98.92 L88.73,99.37 L89.49,99.82 L90.26,100.26 L91.04,100.69 L91.82,101.11 L92.61,101.53 L93.40,101.94 L94.19,102.35 L94.99,102.75 L95.79,103.15 L96.59,103.55 L97.39,103.94 L98.20,104.33 L99.00,104.71 L99.81,105.09 L100.62,105.47 L101.43,105.85 L102.24,106.22 L103.06,106.59 L103.88,106.95 L104.69,107.31 L105.51,107.67 L106.33,108.02 L107.16,108.37 L107.98,108.71 L108.81,109.05 L109.63,109.39 L110.46,109.72 L111.29,110.05 L112.12,110.38 L112.95,110.70 L113.78,111.01 L114.62,111.33 L115.45,111.64 L116.29,111.94 L117.13,112.25 L117.96,112.54 L118.80,112.84 L119.65,113.13 L120.49,113.42 L121.33,113.71 L122.17,113.99 L123.02,114.27 L123.87,114.54 L124.71,114.82 L125.56,115.09 L126.41,115.35 L127.26,115.62 L128.11,115.88 L128.96,116.14 L129.81,116.39 L130.67,116.64 L131.52,116.89 L132.38,117.14 L133.23,117.38 L134.09,117.63 L134.94,117.87 L135.80,118.10 L136.66,118.34 L137.52,118.57 L138.38,118.80 L139.24,119.03 L140.10,119.25 L140.96,119.48 L141.83,119.70 L142.69,119.92 L143.55,120.14 L144.42,120.35 L145.28,120.57 L146.15,120.78 L147.01,120.99 L147.88,121.20 L148.74,121.40 L149.61,121.61 L150.48,121.81 L151.34,122.02 L152.21,122.22 L153.08,122.42 L153.95,122.61 L154.82,122.81 L155.69,123.01 L156.56,123.20 L157.43,123.39 L158.30,123.58 L159.17,123.78 L160.04,123.97 L160.91,124.15 L161.78,124.34 L162.65,124.53 L163.52,124.71 L164.39,124.90 L165.26,125.08 L166.13,125.26 L167.00,125.45 L167.88,125.63 L168.75,125.81 L169.62,125.98 L170.49,126.16 L171.36,126.34 L172.24,126.51 L173.11,126.69 L173.98,126.86 L174.86,127.03 L175.73,127.21 L176.60,127.38 L177.48,127.55 L178.35,127.71 L179.23,127.88 L180.10,128.05 L180.98,128.21 L181.85,128.38 L182.73,128.54 L183.60,128.71 L184.48,128.87 L185.35,129.03 L186.23,129.19 L187.10,129.35 L187.98,129.51 L188.86,129.66 L189.73,129.82 L190.61,129.98 L191.48,130.13 L192.36,130.29 L193.24,130.44 L194.12,130.59 L194.99,130.74 L195.87,130.89 L196.75,131.04 L197.63,131.19 L198.50,131.34 L199.38,131.49 L200.26,131.63 L201.14,131.78 L202.02,131.92 L202.90,132.07 L203.77,132.21 L204.65,132.35 L205.53,132.49 L206.41,132.64 L207.29,132.78 L208.17,132.92 L209.05,133.05 L209.93,133.19 L210.81,133.33 L211.69,133.46 L212.57,133.60 L213.45,133.74 L214.33,133.87 L215.21,134.00 L216.09,134.14 L216.97,134.27 L217.85,134.40 L218.73,134.53 L219.61,134.66 L220.50,134.79 L221.38,134.92 L222.26,135.04 L223.14,135.17 L224.02,135.30 L224.90,135.42 L225.79,135.55 L226.67,135.67 L227.55,135.80 L228.43,135.92 L229.31,136.04 L230.20,136.16 L231.08,136.29 L231.96,136.41 L232.84,136.53 L233.73,136.64 L234.61,136.76 L235.49,136.88 L236.38,137.00 L237.26,137.12 L238.14,137.23 L239.03,137.35 L239.91,137.46 L240.79,137.58 L241.68,137.69 L242.56,137.81 L243.45,137.92 L244.33,138.03 L245.21,138.14 L246.10,138.26 L246.98,138.37 L247.87,138.48 L248.75,138.59 L249.64,138.70 L250.52,138.80 L251.40,138.91 L252.29,139.02 L253.17,139.13 L254.06,139.23 L254.94,139.34 L255.83,139.45 L256.71,139.55 L257.60,139.66 L258.48,139.76 L259.37,139.87 L260.25,139.97 L261.14,140.07 L262.03,140.18 L262.91,140.28 L263.80,140.38 L264.68,140.48 L265.57,140.58 L266.45,140.68 L267.34,140.78 L268.23,140.88 L269.11,140.98 L270.00,141.08 L270.88,141.18 L271.77,141.28 L272.66,141.38 L273.54,141.47 L274.43,141.57 L275.31,141.67 L276.20,141.77 L277.09,141.86 L277.97,141.96 L278.86,142.05 L279.75,142.15 L280.63,142.24 L281.52,142.34 L282.40,142.43 L283.29,142.53 L284.18,142.62 L285.06,142.71 L285.95,142.81 L286.84,142.90 L287.72,142.99 L288.61,143.08 L289.50,143.18 L290.38,143.27 L291.27,143.36 L292.16,143.45 L293.05,143.54 L293.93,143.63 L294.82,143.72 L295.71,143.81 L296.59,143.90 L297.48,143.99 L298.37,144.08 L299.25,144.17 L300.14,144.26 L301.03,144.35 L301.91,144.44 L302.80,144.53 L303.69,144.62 L304.57,144.71 L305.46,144.79 L306.35,144.88 L307.24,144.97 L308.12,145.06 L309.01,145.15 L309.90,145.23 L310.78,145.32 L311.67,145.41 L312.56,145.50 L313.44,145.58 L314.33,145.67 L315.22,145.76 L316.10,145.84 L316.99,145.93 L317.88,146.01 L318.77,146.10 L319.65,146.19 L320.54,146.27 L321.43,146.36 L322.31,146.44 L323.20,146.53 L324.09,146.61 L324.97,146.70 L325.86,146.78 L326.75,146.87 L327.63,146.95 L328.52,147.03 L329.41,147.12 L330.30,147.20 L331.18,147.29 L332.07,147.37 L332.96,147.45 L333.84,147.54 L334.73,147.62 L335.62,147.70 L336.50,147.78 L337.39,147.87 L338.28,147.95 L339.17,148.03 L340.05,148.11 L340.94,148.19 L341.83,148.27 L342.71,148.36 L343.60,148.44 L344.49,148.52 L345.37,148.60 L346.26,148.68 L347.15,148.76 L348.04,148.84 L348.92,148.92 L349.81,149.00 L350.70,149.08 L351.58,149.16 L352.47,149.24 L353.36,149.32 L354.25,149.40 L355.13,149.48 L356.02,149.55 L356.91,149.63 L357.79,149.71 L358.68,149.79 L359.57,149.87 L360.46,149.95 L361.34,150.02 L362.23,150.10 L363.12,150.18 L364.00,150.25 L364.89,150.33 L365.78,150.41 L366.67,150.48 L367.55,150.56 L368.44,150.64 L369.33,150.71 L370.21,150.79 L371.10,150.86 L371.99,150.94 L372.88,151.01 L373.76,151.09 L374.65,151.16 L375.54,151.24 L376.43,151.31 L377.31,151.39 L378.20,151.46 L379.09,151.53 L379.98,151.61 L380.86,151.68 L381.75,151.75 L382.64,151.83 L383.53,151.90 L384.41,151.97 L385.30,152.04 L386.19,152.12 L387.08,152.19 L387.96,152.26 L388.85,152.33 L389.74,152.40 L390.63,152.47 L391.51,152.54 L392.40,152.61 L393.29,152.69 L394.18,152.76 L395.06,152.83 L395.95,152.90 L396.84,152.97 L397.73,153.03 L398.61,153.10 L399.50,153.17 L400.39,153.24 L401.28,153.31 L402.17,153.38 L403.05,153.45 L403.94,153.51 L404.83,153.58 L405.72,153.65 L406.60,153.72 L407.49,153.78 L408.38,153.85 L409.27,153.92 L410.16,153.98 L411.04,154.05 L411.93,154.12 L412.82,154.18 L413.71,154.25 L414.60,154.31 L415.48,154.38 L416.37,154.44 L417.26,154.51 L418.15,154.57 L419.04,154.64 L419.93,154.70 L420.81,154.77 L421.70,154.83 L422.59,154.89 L423.48,154.96 L424.37,155.02 L425.25,155.08 L426.14,155.14 L427.03,155.21 L427.92,155.27 L428.81,155.33 L429.70,155.39 L430.58,155.45 L431.47,155.51 L432.36,155.57 L433.25,155.64 L434.14,155.70 L435.03,155.76 L435.92,155.82 L436.80,155.88 L437.69,155.94 L438.58,155.99 L439.47,156.05 L440.36,156.11 L441.25,156.17 L442.14,156.23 L443.03,156.29 L443.91,156.35 L444.80,156.40 L445.69,156.46 L446.58,156.52 L447.47,156.57 L448.36,156.63 L449.25,156.69 L450.14,156.74 L451.03,156.80 L451.91,156.86 L452.80,156.91 L453.69,156.97 L454.58,157.02 L455.47,157.08 L456.36,157.13 L457.25,157.19 L458.14,157.24 L459.03,157.29 L459.92,157.35 L460.81,157.40 L461.70,157.45 L462.58,157.51 L463.47,157.56 L464.36,157.61 L465.25,157.66 L466.14,157.72 L467.03,157.77 L467.92,157.82 L468.81,157.87 L469.70,157.92 L470.59,157.97 L471.48,158.02 L472.37,158.07 L473.26,158.12 L474.15,158.17 L475.04,158.22 L475.93,158.27 L476.82,158.32 L477.71,158.37 L478.60,158.41 L479.49,158.46 L480.38,158.51 L481.27,158.56 L482.16,158.61 L483.05,158.65 L483.94,158.70 L484.83,158.75 L485.72,158.79 L486.61,158.84 L487.50,158.88 L488.39,158.93 L489.28,158.97 L490.17,159.02 L491.06,159.06 L491.95,159.11 L492.84,159.15 L493.73,159.20 L494.62,159.24 L495.51,159.28 L496.40,159.33 L497.29,159.37 L498.18,159.41 L499.07,159.45 L499.97,159.50 L500.86,159.54 L501.75,159.58 L502.64,159.62 L503.53,159.66 L504.42,159.70 L505.31,159.74 L506.20,159.78 L507.09,159.82 L507.98,159.86 L508.87,159.90 L509.77,159.94" stroke="#ff8000" stroke-dasharray="6.2 2.55"/>
</g>
<text x="67.1" y="58.25" text-anchor="end" clip-path="url(#cy1)">0.1</text><text x="67.1" y="94.25" text-anchor="end">0.08</text><text x="67.1" y="130.25" text-anchor="end">0.06</text><text x="67.1" y="166.25" text-anchor="end">0.04</text><text x="67.1" y="202.25" text-anchor="end">0.02</text><text x="67.1" y="274.25" text-anchor="end">0.02</text><text x="5.1" y="275.05" font-size="24.8px">−</text><text x="67.1" y="310.25" text-anchor="end">0.04</text><text x="5.1" y="311.05" font-size="24.8px">−</text><text x="163.64" y="256.5" text-anchor="middle">0.2</text><text x="250.28" y="256.5" text-anchor="middle">0.4</text><text x="336.92" y="256.5" text-anchor="middle">0.6</text><text x="423.56" y="256.5" text-anchor="middle">0.8</text><text x="510.45" y="256.5" text-anchor="middle" clip-path="url(#cx1)">1</text>
<text x="61.8" y="33.6">C<tspan font-size="16px" dx="-0.3" dy="2.1">2</tspan></text>
<text x="525.7" y="237.5">u</text>
</svg>
</body></html>
